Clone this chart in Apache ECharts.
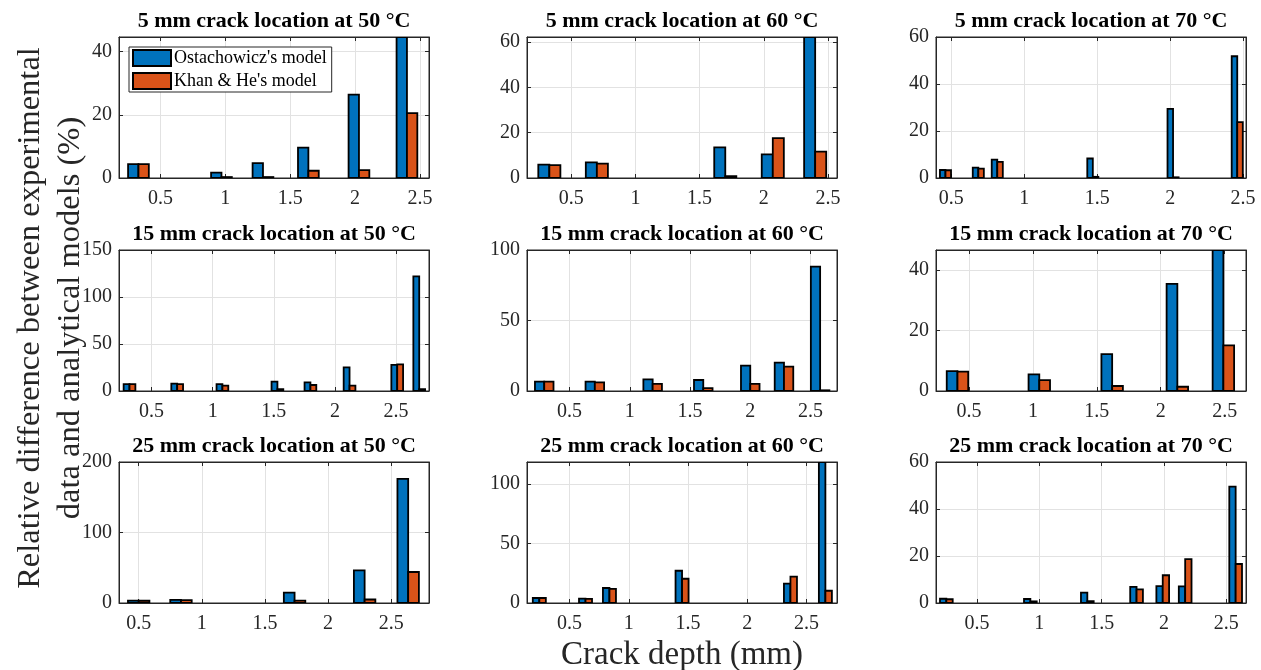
<!DOCTYPE html>
<html>
<head>
<meta charset="utf-8">
<script src="https://cdn.jsdelivr.net/npm/echarts@6/dist/echarts.min.js"></script>
<style>
  html, body { margin: 0; padding: 0; background: #fff; }
  #chart { width: 1261px; height: 670px; }
</style>
</head>
<body>
<div id="chart"></div>
<script>
// Crack depths (mm) and relative differences (%) for each crack location / temperature
const depth5_50 = [0.33, 0.97, 1.29, 1.64, 2.03, 2.40];
const ost5_50   = [4.4, 1.7, 4.7, 9.6, 26.4, 44.6];
const khan5_50  = [4.4, 0.3, 0.3, 2.3, 2.5, 20.5];

const depth5_60 = [0.33, 0.70, 1.70, 2.07, 2.40];
const ost5_60   = [5.9, 6.9, 13.5, 10.4, 62.2];
const khan5_60  = [5.7, 6.3, 0.8, 17.6, 11.6];

const depth5_70 = [0.46, 0.685, 0.815, 1.47, 2.02, 2.46];
const ost5_70   = [3.4, 4.4, 7.8, 8.3, 29.4, 51.8];
const khan5_70  = [3.3, 4.0, 6.9, 0.5, 0.3, 23.8];

const depth15_50 = [0.32, 0.71, 1.08, 1.53, 1.80, 2.12, 2.51, 2.69];
const ost15_50   = [7.4, 7.8, 7.4, 9.9, 9.2, 25.2, 27.7, 122];
const khan15_50  = [7.4, 7.4, 5.7, 2.1, 6.4, 5.7, 28.4, 2.0];

const depth15_60 = [0.29, 0.71, 1.19, 1.61, 2.00, 2.28, 2.58];
const ost15_60   = [6.6, 6.6, 8.3, 7.8, 18.0, 20.1, 88.2];
const khan15_60  = [6.6, 6.1, 5.0, 2.1, 5.0, 17.3, 0.5];

const depth15_70 = [0.41, 1.05, 1.62, 2.13, 2.49];
const ost15_70   = [6.6, 5.5, 12.2, 35.4, 46.6];
const khan15_70  = [6.4, 3.6, 1.65, 1.4, 15.1];

const depth25_50 = [0.50, 0.835, 1.735, 2.29, 2.635];
const ost25_50   = [3.5, 4.5, 14.6, 46.3, 176];
const khan25_50  = [3.2, 4.0, 3.5, 5.0, 44];

const depth25_60 = [0.245, 0.635, 0.837, 1.45, 2.365, 2.66];
const ost25_60   = [4.2, 3.6, 12.6, 27.1, 16.2, 118.5];
const khan25_60  = [4.2, 3.4, 11.9, 20.4, 22.1, 10.3];

const depth25_70 = [0.254, 0.928, 1.385, 1.78, 1.99, 2.17, 2.575];
const ost25_70   = [1.8, 1.7, 4.4, 6.9, 7.2, 7.1, 49.5];
const khan25_70  = [1.6, 0.7, 0.8, 5.8, 11.8, 18.7, 16.6];

// Tick labels
const xTicks = [0.5, 1, 1.5, 2, 2.5];
const yTicks20_40 = [0, 20, 40];
const yTicks20_60 = [0, 20, 40, 60];
const yTicks50_100 = [0, 50, 100];
const yTicks50_150 = [0, 50, 100, 150];
const yTicks100_200 = [0, 100, 200];

const seriesNames = ["Ostachowicz's model", "Khan & He's model"];
const titles = [
  '5 mm crack location at 50 °C', '5 mm crack location at 60 °C', '5 mm crack location at 70 °C',
  '15 mm crack location at 50 °C', '15 mm crack location at 60 °C', '15 mm crack location at 70 °C',
  '25 mm crack location at 50 °C', '25 mm crack location at 60 °C', '25 mm crack location at 70 °C'
];

// Panel setup: data, axis limits and bar width (in crack-depth units)
const panels = [
  { depth: depth5_50,  a: ost5_50,  b: khan5_50,  xr: [0.18, 2.57],  yMax: 44.6,  yTicks: yTicks20_40,   bw: 0.080 },
  { depth: depth5_60,  a: ost5_60,  b: khan5_60,  xr: [0.156, 2.57], yMax: 62.2,  yTicks: yTicks20_60,   bw: 0.086 },
  { depth: depth5_70,  a: ost5_70,  b: khan5_70,  xr: [0.395, 2.52], yMax: 60,    yTicks: yTicks20_60,   bw: 0.038 },
  { depth: depth15_50, a: ost15_50, b: khan15_50, xr: [0.234, 2.77], yMax: 150,   yTicks: yTicks50_150,  bw: 0.048 },
  { depth: depth15_60, a: ost15_60, b: khan15_60, xr: [0.147, 2.72], yMax: 100,   yTicks: yTicks50_100,  bw: 0.077 },
  { depth: depth15_70, a: ost15_70, b: khan15_70, xr: [0.242, 2.667],yMax: 46.6,  yTicks: yTicks20_40,   bw: 0.084 },
  { depth: depth25_50, a: ost25_50, b: khan25_50, xr: [0.344, 2.80], yMax: 200,   yTicks: yTicks100_200, bw: 0.085 },
  { depth: depth25_60, a: ost25_60, b: khan25_60, xr: [0.141, 2.758],yMax: 118.5, yTicks: yTicks50_100,  bw: 0.055 },
  { depth: depth25_70, a: ost25_70, b: khan25_70, xr: [0.171, 2.658],yMax: 60,    yTicks: yTicks20_60,   bw: 0.051 }
];

const colors = ['#0072BD', '#D95319'];
const FONT = 'Liberation Serif';
const AXIS_COLOR = '#262626';
const GRID_COLOR = '#e2e2e2';
const TICK_FONT = 20;

const colLeft = [119, 527, 936];
const rowTop = [37, 250, 462];
const plotW = 310, plotH = 141;

function barRenderer(width, side, fill) {
  return function (params, api) {
    const x = api.value(0), v = api.value(1);
    const x0 = side === 0 ? x - width : x;
    const x1 = side === 0 ? x : x + width;
    const p = api.coord([x0, v]);
    const q = api.coord([x1, 0]);
    return {
      type: 'rect',
      shape: { x: p[0], y: p[1], width: q[0] - p[0], height: q[1] - p[1] },
      style: { fill: fill, stroke: '#000', lineWidth: 1.8 }
    };
  };
}

const grid = [], xAxis = [], yAxis = [], series = [], graphic = [];

panels.forEach(function (pn, i) {
  const col = i % 3, row = Math.floor(i / 3);
  grid.push({
    left: colLeft[col], top: rowTop[row], width: plotW, height: plotH,
    show: true, borderColor: AXIS_COLOR, borderWidth: 1, backgroundColor: 'transparent'
  });

  const tickStyle = { color: AXIS_COLOR, width: 1 };
  // bottom x axis with labels and grid lines
  xAxis.push({
    gridIndex: i, type: 'value', position: 'bottom', min: pn.xr[0], max: pn.xr[1],
    axisLine: { show: true, onZero: false, lineStyle: { color: AXIS_COLOR } },
    axisTick: { show: true, inside: true, length: 4, customValues: xTicks, lineStyle: tickStyle },
    axisLabel: { customValues: xTicks, fontFamily: FONT, fontSize: TICK_FONT, color: AXIS_COLOR, margin: 11 },
    splitLine: { show: true, lineStyle: { color: GRID_COLOR, width: 1 } }
  });
  // top x axis: ticks only
  xAxis.push({
    gridIndex: i, type: 'value', position: 'top', min: pn.xr[0], max: pn.xr[1],
    axisLine: { show: true, onZero: false, lineStyle: { color: AXIS_COLOR } },
    axisTick: { show: true, inside: true, length: 4, customValues: xTicks, lineStyle: tickStyle },
    axisLabel: { show: false },
    splitLine: { show: false }
  });
  yAxis.push({
    gridIndex: i, type: 'value', position: 'left', min: 0, max: pn.yMax,
    axisLine: { show: true, onZero: false, lineStyle: { color: AXIS_COLOR } },
    axisTick: { show: true, inside: true, length: 4, customValues: pn.yTicks, lineStyle: tickStyle },
    axisLabel: { customValues: pn.yTicks, fontFamily: FONT, fontSize: TICK_FONT, color: AXIS_COLOR, margin: 7 },
    splitLine: { show: true, lineStyle: { color: GRID_COLOR, width: 1 } }
  });
  yAxis.push({
    gridIndex: i, type: 'value', position: 'right', min: 0, max: pn.yMax,
    axisLine: { show: true, onZero: false, lineStyle: { color: AXIS_COLOR } },
    axisTick: { show: true, inside: true, length: 4, customValues: pn.yTicks, lineStyle: tickStyle },
    axisLabel: { show: false },
    splitLine: { show: false }
  });

  [pn.a, pn.b].forEach(function (vals, s) {
    series.push({
      type: 'custom',
      name: seriesNames[s],
      xAxisIndex: 2 * i,
      yAxisIndex: 2 * i,
      clip: true,
      itemStyle: { color: colors[s] },
      encode: { x: 0, y: 1 },
      renderItem: barRenderer(pn.bw, s, colors[s]),
      data: pn.depth.map(function (d, k) { return [d, vals[k]]; }),
      silent: true
    });
  });

  graphic.push({
    type: 'text',
    x: colLeft[col] + plotW / 2,
    y: [21, 234, 446][row],
    style: {
      text: titles[i], fontFamily: FONT, fontWeight: 'bold', fontSize: 22,
      fill: '#000', textAlign: 'center', textVerticalAlign: 'middle'
    }
  });
});

// Shared axis titles
graphic.push({
  type: 'text', x: 682, y: 655,
  style: {
    text: 'Crack depth (mm)', fontFamily: FONT, fontSize: 33, fill: AXIS_COLOR,
    textAlign: 'center', textVerticalAlign: 'middle'
  }
});
graphic.push({
  type: 'text', x: 50, y: 318, rotation: Math.PI / 2,
  style: {
    text: 'Relative difference between experimental\ndata and analytical models (%)',
    fontFamily: FONT, fontSize: 32.5, lineHeight: 40, fill: AXIS_COLOR,
    textAlign: 'center', textVerticalAlign: 'middle'
  }
});

const chart = echarts.init(document.getElementById('chart'), null, { renderer: 'canvas' });
chart.setOption({
  animation: false,
  backgroundColor: '#fff',
  grid: grid,
  xAxis: xAxis,
  yAxis: yAxis,
  series: series,
  graphic: graphic,
  legend: {
    show: true,
    left: 129, top: 47,
    orient: 'vertical',
    icon: 'rect',
    itemWidth: 38, itemHeight: 16, itemGap: 5,
    padding: [2, 5, 2, 3],
    backgroundColor: '#fff',
    borderColor: AXIS_COLOR, borderWidth: 1, borderRadius: 0,
    selectedMode: false,
    textStyle: { fontFamily: FONT, fontSize: 18, color: '#000', padding: [0, 0, 0, -2] },
    data: [
      { name: seriesNames[0], itemStyle: { color: colors[0], borderColor: '#000', borderWidth: 2 } },
      { name: seriesNames[1], itemStyle: { color: colors[1], borderColor: '#000', borderWidth: 2 } }
    ]
  }
});
</script>
</body>
</html>
